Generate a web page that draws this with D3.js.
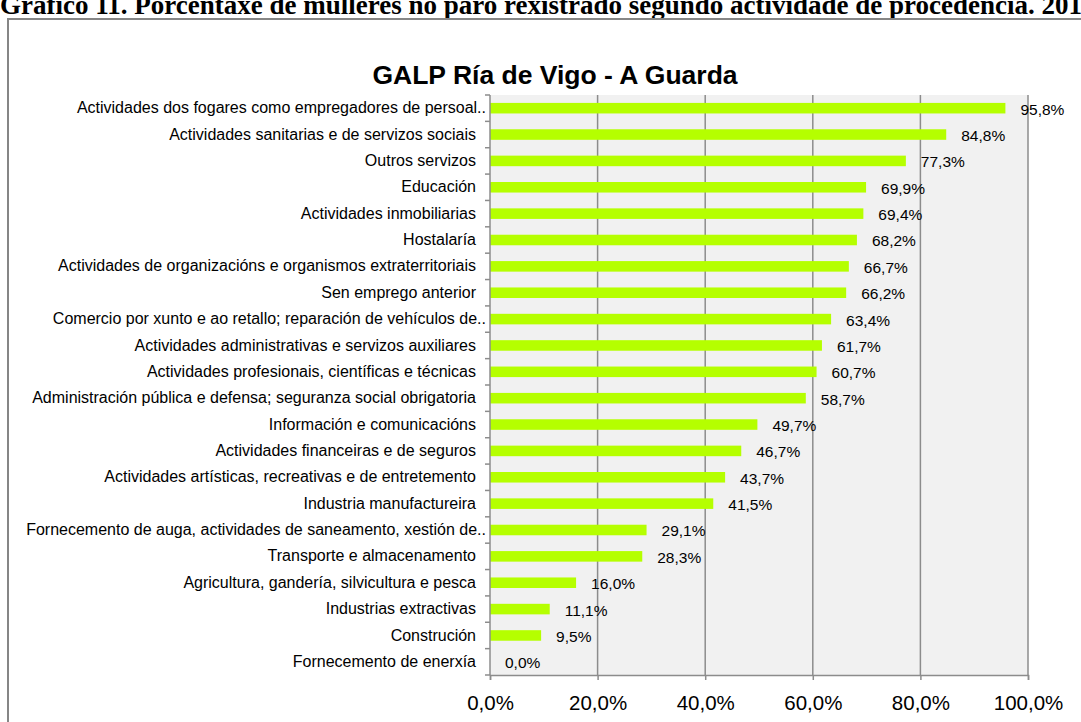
<!DOCTYPE html>
<html lang="gl">

<head>
     <title>GALP Ría de Vigo - A Guarda</title>
     <meta charset="UTF-8">
     <script src="https://d3js.org/d3.v7.min.js"></script>
</head>

<body>
     <style>
          body {
               margin: 0;
               padding: 0;
               background: #fff;
          }

          svg text {
               font-family: "Liberation Sans", Arial, sans-serif;
               fill: #000;
          }
     </style>

     <script>
          // datos
          let categorias = [
               "Actividades dos fogares como empregadores de persoal..",
               "Actividades sanitarias e de servizos sociais",
               "Outros servizos",
               "Educación",
               "Actividades inmobiliarias",
               "Hostalaría",
               "Actividades de organizacións e organismos extraterritoriais",
               "Sen emprego anterior",
               "Comercio por xunto e ao retallo; reparación de vehículos de..",
               "Actividades administrativas e servizos auxiliares",
               "Actividades profesionais, científicas e técnicas",
               "Administración pública e defensa; seguranza social obrigatoria",
               "Información e comunicacións",
               "Actividades financeiras e de seguros",
               "Actividades artísticas, recreativas e de entretemento",
               "Industria manufactureira",
               "Fornecemento de auga, actividades de saneamento, xestión de..",
               "Transporte e almacenamento",
               "Agricultura, gandería, silvicultura e pesca",
               "Industrias extractivas",
               "Construción",
               "Fornecemento de enerxía"
          ]
          let porcentaxes = [0.958, 0.848, 0.773, 0.699, 0.694, 0.682, 0.667, 0.662, 0.634, 0.617,
               0.607, 0.587, 0.497, 0.467, 0.437, 0.415, 0.291, 0.283, 0.160, 0.111, 0.095, 0.0]
          let ticksX = [0, 0.2, 0.4, 0.6, 0.8, 1.0]

          let width = 1081
          let height = 722
          let pLeft = 490, pRight = 1028, pTop = 95, pBottom = 675

          let locale = d3.formatLocale({ decimal: ",", thousands: ".", grouping: [3], currency: ["", " €"] })
          let pct = locale.format(".1%")

          let svg = d3.select("body")
               .append("svg")
               .attr("width", width)
               .attr("height", height)

          // cabeceira do documento (cortada arriba)
          svg.append("text")
               .attr("x", 0)
               .attr("y", 14)
               .style("font-family", "'Liberation Serif', 'Times New Roman', serif")
               .style("font-weight", "bold")
               .style("font-size", "27px")
               .text("Gráfico 11. Porcentaxe de mulleres no paro rexistrado segundo actividade de procedencia. 2014")

          // marco do gráfico
          svg.append("rect")
               .attr("x", 8)
               .attr("y", 19)
               .attr("width", 1200)
               .attr("height", 800)
               .attr("fill", "none")
               .attr("stroke", "#868686")
               .attr("stroke-width", 2)

          svg.append("text")
               .attr("x", 555)
               .attr("y", 84)
               .attr("text-anchor", "middle")
               .style("font-weight", "bold")
               .style("font-size", "26.5px")
               .text("GALP Ría de Vigo - A Guarda")

          let x = d3.scaleLinear().domain([0, 1]).range([pLeft, pRight])
          let y = d3.scaleBand().domain(categorias).range([pTop, pBottom]).padding(0.6).paddingOuter(0.3)

          svg.append("rect")
               .attr("x", pLeft)
               .attr("y", pTop)
               .attr("width", pRight - pLeft)
               .attr("height", pBottom - pTop)
               .attr("fill", "#f1f1f1")

          // grella
          svg.append("g")
               .selectAll("line")
               .data(ticksX.slice(1))
               .join("line")
               .attr("x1", d => x(d))
               .attr("x2", d => x(d))
               .attr("y1", pTop)
               .attr("y2", pBottom)
               .attr("stroke", "#8c8c8c")
               .attr("stroke-width", 1.5)

          // barras
          svg.append("g")
               .selectAll("rect")
               .data(categorias)
               .join("rect")
               .attr("x", x(0))
               .attr("y", d => y(d))
               .attr("width", (d, i) => x(porcentaxes[i]) - x(0))
               .attr("height", y.bandwidth())
               .attr("fill", "#b5ff00")

          // etiquetas de valor
          svg.append("g")
               .selectAll("text")
               .data(categorias)
               .join("text")
               .attr("x", (d, i) => x(porcentaxes[i]) + 15)
               .attr("y", d => y(d) + y.bandwidth() / 2 + 1)
               .attr("dy", "0.35em")
               .style("font-size", "15.5px")
               .text((d, i) => pct(porcentaxes[i]))

          // eixo X
          let eixoX = svg.append("g")
               .attr("transform", `translate(0,${pBottom})`)
               .call(d3.axisBottom(x).tickValues(ticksX).tickSize(5).tickPadding(15).tickFormat(pct))
          eixoX.select(".domain").attr("stroke", "#8c8c8c").attr("stroke-width", 1.5)
          eixoX.selectAll(".tick line").attr("stroke", "#8c8c8c").attr("stroke-width", 1.5)
          eixoX.selectAll("text")
               .style("font-size", "20.5px")
               .style("font-family", "'Liberation Sans', Arial, sans-serif")
               .attr("fill", "#000")

          // eixo Y
          let eixoY = svg.append("g")
               .attr("transform", `translate(${pLeft},0)`)
               .call(d3.axisLeft(y).tickSize(0).tickPadding(14))
          eixoY.select(".domain").remove()
          eixoY.selectAll("text")
               .style("font-size", "16px")
               .style("font-family", "'Liberation Sans', Arial, sans-serif")
               .attr("fill", "#000")
               .attr("x", d => d.endsWith("..") ? -4 : -14)

          let paso = y.step()
          let limites = d3.range(categorias.length + 1).map(i => pTop + i * paso)
          svg.append("g")
               .selectAll("line")
               .data(limites)
               .join("line")
               .attr("x1", pLeft - 5)
               .attr("x2", pLeft)
               .attr("y1", d => d)
               .attr("y2", d => d)
               .attr("stroke", "#8c8c8c")
               .attr("stroke-width", 1.5)

          svg.append("line")
               .attr("x1", pLeft)
               .attr("x2", pLeft)
               .attr("y1", pTop)
               .attr("y2", pBottom)
               .attr("stroke", "#8c8c8c")
               .attr("stroke-width", 1.5)
     </script>

</body>

</html>
